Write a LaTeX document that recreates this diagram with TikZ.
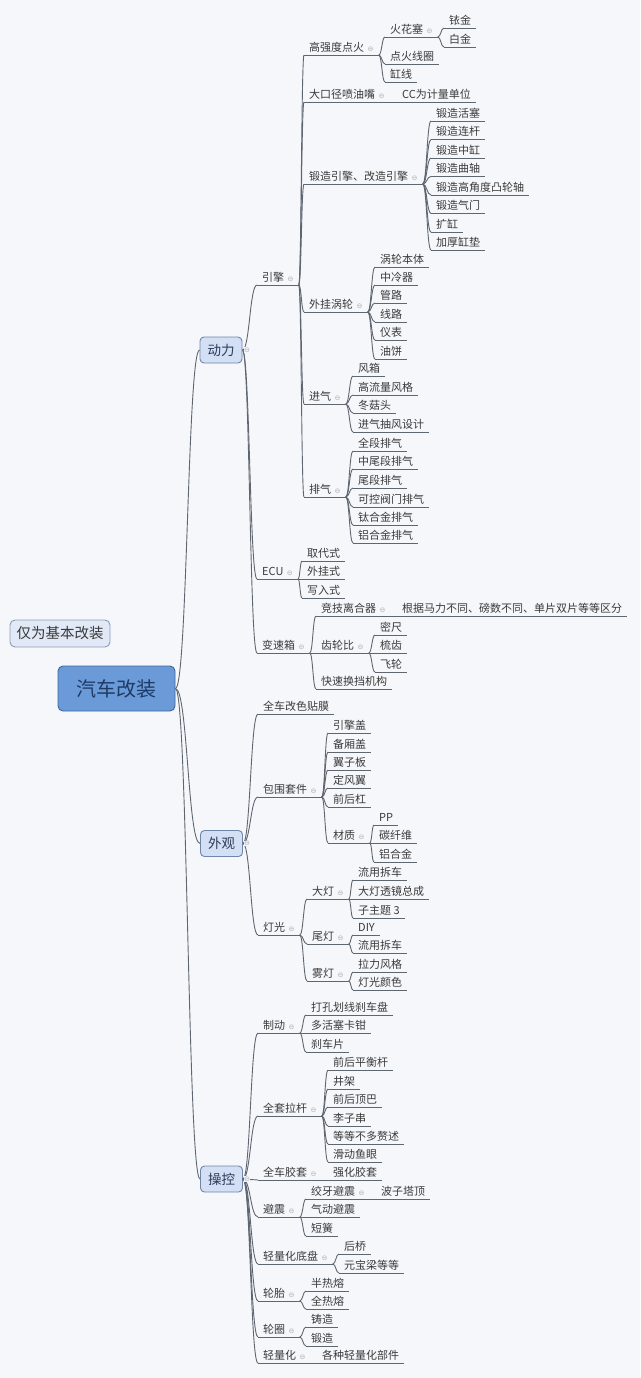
\documentclass[tikz,border=0pt]{standalone}
\usepackage{fontspec}
\setmainfont{Noto Sans CJK SC}
\newfontfamily\dvfont{DejaVu Sans}
\usetikzlibrary{calc}
\definecolor{bg}{HTML}{F6F7FB}
\definecolor{lncol}{HTML}{5E6670}
\definecolor{txcol}{HTML}{3A3A3A}
\definecolor{icocol}{HTML}{A9AEB5}
\definecolor{rootfill}{HTML}{6A9BD8}
\definecolor{rootdraw}{HTML}{41679E}
\definecolor{roottext}{HTML}{1E3B66}
\definecolor{mainfill}{HTML}{D3DFF4}
\definecolor{maindraw}{HTML}{6F86A8}
\definecolor{maintext}{HTML}{2B3B57}
\definecolor{sidefill}{HTML}{E2E9F6}
\definecolor{sidedraw}{HTML}{8C9BB5}
\newcommand{\ico}{\hspace{3.5pt}{\dvfont\fontsize{7}{7}\selectfont\color{icocol}⊖}}
\tikzset{
  uline/.style={draw=lncol, line width=0.9pt},
  lf/.style={anchor=south west, inner xsep=5pt, inner ysep=2pt, text height=9pt, text depth=1.5pt,
    font=\fontsize{11}{13}\selectfont, text=txcol,
    append after command={(\tikzlastnode.south west) edge[uline] (\tikzlastnode.south east)}},
  conn/.style={draw=lncol, line width=0.9pt,
    to path={.. controls ($(\tikztostart)!0.5!(\tikztostart-|\tikztotarget)$) and ($(\tikztotarget)!0.5!(\tikztotarget-|\tikztostart)$) .. (\tikztotarget)}},
  mainbox/.style={draw=maindraw, fill=mainfill, rounded corners=4pt, line width=0.9pt,
    minimum width=42pt, minimum height=26pt, inner sep=0pt, text=maintext, font=\fontsize{13.5}{15}\selectfont},
  rootbox/.style={draw=rootdraw, fill=rootfill, rounded corners=5pt, line width=0.9pt,
    minimum width=117pt, minimum height=45pt, inner sep=0pt, text=roottext, font=\fontsize{20}{22}\selectfont},
  sidebox/.style={draw=sidedraw, fill=sidefill, rounded corners=5pt, line width=0.9pt,
    minimum width=100pt, minimum height=27pt, inner sep=0pt, text=txcol, font=\fontsize{14.5}{16}\selectfont},
  icn/.style={fill=bg, inner sep=0.3pt, text=icocol, font=\dvfont\fontsize{7}{7}\selectfont}
}
\newcommand{\cn}[2]{\foreach \c in {#2} {\draw[conn] (#1.south east) to (\c.south west);}}
\begin{document}
\begin{tikzpicture}[x=1pt,y=-1pt]
\fill[bg] (0,0) rectangle (640,1378);
\useasboundingbox (0,0) rectangle (640,1378);

% main boxes
\node[sidebox] (s) at (60,633.5) {仅为基本改装};
\node[rootbox] (r) at (116.5,688.5) {汽车改装};
\node[mainbox] (A) at (221,350) {动力};
\node[mainbox] (B) at (221.5,843.5) {外观};
\node[mainbox] (C) at (221.5,1179) {操控};

% ===== 动力 =====
\node[lf] (a1) at (257,285) {引擎\ico};
\node[lf] (a2) at (257,579) {ECU\ico};
\node[lf] (a3) at (257,653) {变速箱\ico};

\node[lf] (a11) at (304,55) {高强度点火\ico};
\node[lf] (a12) at (304,102) {大口径喷油嘴\ico};
\node[lf] (a13) at (304,184) {锻造引擎、改造引擎\ico};
\node[lf] (a14) at (304,312) {外挂涡轮\ico};
\node[lf] (a15) at (304,404) {进气\ico};
\node[lf] (a16) at (304,497) {排气\ico};

\node[lf] (a111) at (385,37) {火花塞\ico};
\node[lf] (a112) at (385,64) {点火线圈};
\node[lf] (a113) at (385,82) {缸线};
\node[lf] (a1111) at (444,28) {铱金};
\node[lf] (a1112) at (444,47) {白金};

\node[lf] (a121) at (397,102) {CC为计量单位};

\node[lf] (a131) at (431,121) {锻造活塞};
\node[lf] (a132) at (431,139.5) {锻造连杆};
\node[lf] (a133) at (431,158) {锻造中缸};
\node[lf] (a134) at (431,176.5) {锻造曲轴};
\node[lf] (a135) at (431,195) {锻造高角度凸轮轴};
\node[lf] (a136) at (431,213.5) {锻造气门};
\node[lf] (a137) at (431,232) {扩缸};
\node[lf] (a138) at (431,250) {加厚缸垫};

\node[lf] (a141) at (375,267) {涡轮本体};
\node[lf] (a142) at (375,285) {中冷器};
\node[lf] (a143) at (375,303) {管路};
\node[lf] (a144) at (375,322) {线路};
\node[lf] (a145) at (375,340) {仪表};
\node[lf] (a146) at (375,359) {油饼};

\node[lf] (a151) at (353,376) {风箱};
\node[lf] (a152) at (353,395) {高流量风格};
\node[lf] (a153) at (353,413) {冬菇头};
\node[lf] (a154) at (353,432) {进气抽风设计};

\node[lf] (a161) at (353,451) {全段排气};
\node[lf] (a162) at (353,469) {中尾段排气};
\node[lf] (a163) at (353,488) {尾段排气};
\node[lf] (a164) at (353,507) {可控阀门排气};
\node[lf] (a165) at (353,525) {钛合金排气};
\node[lf] (a166) at (353,543) {铝合金排气};

\node[lf] (a21) at (302,561) {取代式};
\node[lf] (a22) at (302,579) {外挂式};
\node[lf] (a23) at (302,598) {写入式};

\node[lf] (a31) at (316,616) {竞技离合器\ico};
\node[lf] (a32) at (316,653) {齿轮比\ico};
\node[lf] (a33) at (316,689) {快速换挡机构};
\node[lf] (a311) at (397,616) {根据马力不同、磅数不同、单片双片等等区分};
\node[lf] (a321) at (375,635) {密尺};
\node[lf] (a322) at (375,653) {梳齿};
\node[lf] (a323) at (375,672) {飞轮};

% ===== 外观 =====
\node[lf] (b1) at (258,714) {全车改色贴膜};
\node[lf] (b2) at (258,797) {包围套件\ico};
\node[lf] (b3) at (258,935) {灯光\ico};

\node[lf] (b21) at (328,733) {引擎盖};
\node[lf] (b22) at (328,752) {备厢盖};
\node[lf] (b23) at (328,770) {翼子板};
\node[lf] (b24) at (328,788) {定风翼};
\node[lf] (b25) at (328,807) {前后杠};
\node[lf] (b26) at (328,843) {材质\ico};
\node[lf] (b261) at (374,825) {PP};
\node[lf] (b262) at (374,843) {碳纤维};
\node[lf] (b263) at (374,862) {铝合金};

\node[lf] (b31) at (307,899) {大灯\ico};
\node[lf] (b32) at (307,944) {尾灯\ico};
\node[lf] (b33) at (307,981) {雾灯\ico};
\node[lf] (b311) at (353,880) {流用拆车};
\node[lf] (b312) at (353,899) {大灯透镜总成};
\node[lf] (b313) at (353,918) {子主题 3};
\node[lf] (b321) at (353,935) {DIY};
\node[lf] (b322) at (353,953) {流用拆车};
\node[lf] (b331) at (353,972) {拉力风格};
\node[lf] (b332) at (353,990) {灯光颜色};

% ===== 操控 =====
\node[lf] (c1) at (258,1033) {制动\ico};
\node[lf] (c2) at (258,1116) {全套拉杆\ico};
\node[lf] (c3) at (258,1180) {全车胶套\ico};
\node[lf] (c4) at (258,1217) {避震\ico};
\node[lf] (c5) at (258,1264) {轻量化底盘\ico};
\node[lf] (c6) at (258,1301) {轮胎\ico};
\node[lf] (c7) at (258,1337) {轮圈\ico};
\node[lf] (c8) at (258,1363) {轻量化\ico};

\node[lf] (c11) at (306,1015) {打孔划线刹车盘};
\node[lf] (c12) at (306,1033) {多活塞卡钳};
\node[lf] (c13) at (306,1052) {刹车片};

\node[lf] (c21) at (328,1070) {前后平衡杆};
\node[lf] (c22) at (328,1089) {井架};
\node[lf] (c23) at (328,1107) {前后顶巴};
\node[lf] (c24) at (328,1126) {李子串};
\node[lf] (c25) at (328,1144) {等等不多赘述};
\node[lf] (c26) at (328,1162) {滑动鱼眼};

\node[lf] (c31) at (328,1180) {强化胶套};

\node[lf] (c41) at (306,1199) {绞牙避震\ico};
\node[lf] (c42) at (306,1217) {气动避震};
\node[lf] (c43) at (306,1236) {短簧};
\node[lf] (c411) at (376,1199) {波子塔顶};

\node[lf] (c51) at (339,1254) {后桥};
\node[lf] (c52) at (339,1273) {元宝梁等等};

\node[lf] (c61) at (306,1291) {半热熔};
\node[lf] (c62) at (306,1309) {全热熔};

\node[lf] (c71) at (306,1327) {铸造};
\node[lf] (c72) at (306,1346) {锻造};

\node[lf] (c81) at (317,1363) {各种轻量化部件};

% ===== connectors =====
\foreach \m in {A,B,C} {\draw[conn] (r.east) to (\m.west);}
\foreach \c in {a1,a2,a3} {\draw[conn] (A.east) to (\c.south west);}
\foreach \c in {b1,b2,b3} {\draw[conn] (B.east) to (\c.south west);}
\foreach \c in {c1,c2,c3,c4,c5,c6,c7,c8} {\draw[conn] (C.east) to (\c.south west);}

\cn{a1}{a11,a12,a13,a14,a15,a16}
\cn{a11}{a111,a112,a113}
\cn{a111}{a1111,a1112}
\cn{a12}{a121}
\cn{a13}{a131,a132,a133,a134,a135,a136,a137,a138}
\cn{a14}{a141,a142,a143,a144,a145,a146}
\cn{a15}{a151,a152,a153,a154}
\cn{a16}{a161,a162,a163,a164,a165,a166}
\cn{a2}{a21,a22,a23}
\cn{a3}{a31,a32,a33}
\cn{a31}{a311}
\cn{a32}{a321,a322,a323}

\cn{b2}{b21,b22,b23,b24,b25,b26}
\cn{b26}{b261,b262,b263}
\cn{b3}{b31,b32,b33}
\cn{b31}{b311,b312,b313}
\cn{b32}{b321,b322}
\cn{b33}{b331,b332}

\cn{c1}{c11,c12,c13}
\cn{c2}{c21,c22,c23,c24,c25,c26}
\cn{c3}{c31}
\cn{c4}{c41,c42,c43}
\cn{c41}{c411}
\cn{c5}{c51,c52}
\cn{c6}{c61,c62}
\cn{c7}{c71,c72}
\cn{c8}{c81}

% collapse icons of main boxes
\node[icn] (iA) at (247,350) {⊖};
\node[icn] (iB) at (247,843.5) {⊖};
\node[icn] (iC) at (247,1179) {⊖};
\end{tikzpicture}
\end{document}
